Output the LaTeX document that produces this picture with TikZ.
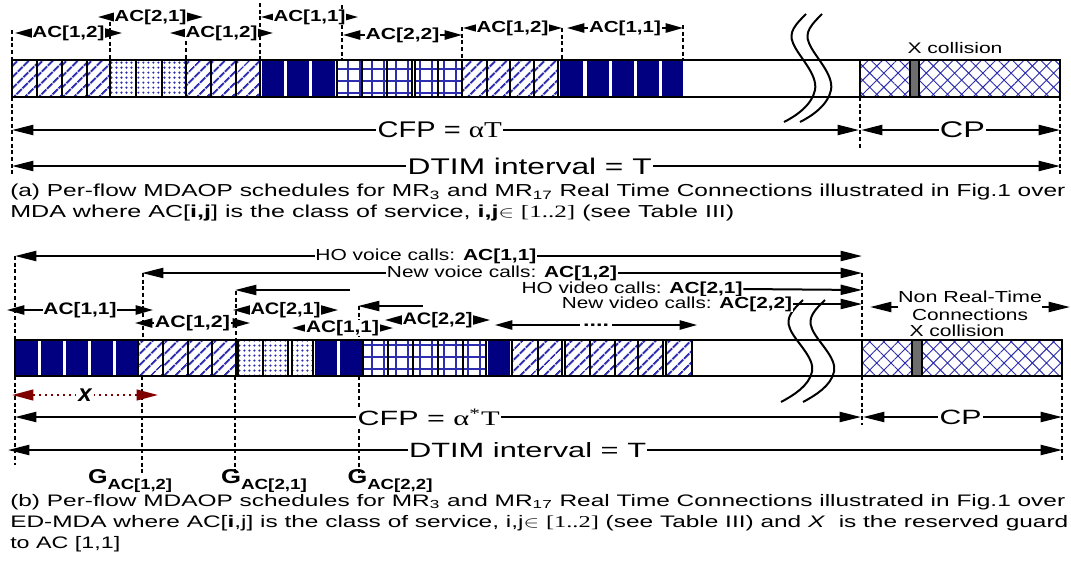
\documentclass[tikz,border=0pt]{standalone}
\usepackage{fontspec}
\setmainfont{Liberation Sans}
\newfontfamily\srf{Liberation Serif}
\usetikzlibrary{patterns.meta,arrows.meta}
\definecolor{navyb}{RGB}{0,0,128}
\definecolor{patb}{RGB}{45,45,175}
\definecolor{collgray}{RGB}{110,110,110}
\definecolor{dred}{RGB}{128,0,0}
\newcommand\W[2]{\resizebox{\dimexpr#1pt*3/4\relax}{\height}{#2}}
\newcommand\fs[1]{\fontsize{#1}{#1}\selectfont}
\tikzset{
  cellbox/.style={draw=black,line width=1.5pt},
  hatchcell/.style={cellbox,pattern={Lines[angle=45,distance=6.5pt,line width=1.9pt]},pattern color=patb},
  dotcell/.style={cellbox,pattern={Dots[distance=4pt,radius=1pt]},pattern color=patb},
  gridcell/.style={cellbox,pattern={Hatch[angle=0,distance=9pt,line width=1.1pt]},pattern color=patb},
  navycell/.style={fill=navyb},
  crosscell/.style={cellbox,pattern={Hatch[angle=45,distance=7.5pt,line width=0.7pt]},pattern color=patb},
  graycell/.style={draw=black,line width=1pt,fill=collgray},
  baroutline/.style={draw=black,line width=1.5pt},
  guide/.style={line width=1.3pt,dash pattern=on 3pt off 2pt},
  wave/.style={line width=1.5pt},
  dimarrow/.style={line width=1.1pt,{Triangle[length=13pt,width=7pt]}-{Triangle[length=13pt,width=7pt]}},
  bigarrow/.style={line width=1.5pt,{Triangle[length=16pt,width=7.5pt]}-{Triangle[length=16pt,width=7.5pt]}},
  onearrow/.style={line width=1.5pt,-{Triangle[length=16pt,width=7.5pt]}},
  redarrow/.style={dred,line width=1.6pt,dash pattern=on 1.5pt off 3pt,{Triangle[length=16pt,width=8pt]}-{Triangle[length=16pt,width=8pt]}},
  dimlabel/.style={fill=white,inner sep=0.5pt,font=\bfseries\fs{12}},
  calllabel/.style={fill=white,inner sep=0.5pt,font=\fs{12}},
  biglabel/.style={fill=white,inner sep=1pt},
  plainlabel/.style={inner sep=0pt},
  caption/.style={inner sep=0pt,anchor=west},
}
\begin{document}
\begin{tikzpicture}[x=0.75pt,y=-0.75pt]
\useasboundingbox[fill=white] (0,0) rectangle (1071,561);

%================ (a) bar =================
\foreach \p/\q in {12/37,37/62,62/87,87/110,186/211,211/236,236/260,462/487,487/510,510/534,534/558}
  \draw[hatchcell] (\p,60) rectangle (\q,97);
\foreach \p/\q in {110/136,136/162,162/186}
  \draw[dotcell] (\p,60) rectangle (\q,97);
\foreach \p/\q in {337/362,362/387,387/412,415/438,438/462}
  \draw[gridcell] (\p,60) rectangle (\q,97);
\foreach \p/\q in {262/284,287/309,312/335,560/583,587/609,612/634,637/659,662/683}
  \fill[navycell] (\p,60) rectangle (\q,97);
\draw[crosscell] (860,60) rectangle (910,97);
\draw[crosscell] (919,60) rectangle (1060,97);
\draw[graycell] (910,60) rectangle (919,97);
\draw[baroutline] (12,60) rectangle (1060,97);

% guides (a)
\draw[guide] (12,30) -- (12,60);
\draw[guide] (12,97) -- (12,175);
\draw[guide] (110,15) -- (110,60);
\draw[guide] (186,28) -- (186,60);
\draw[guide] (260,3) -- (260,60);
\draw[guide] (342,5) -- (342,60);
\draw[guide] (462,27) -- (462,60);
\draw[guide] (562,28) -- (562,60);
\draw[guide] (683,25) -- (683,60);
\draw[guide] (860,97) -- (860,150);
\draw[guide] (1060,97) -- (1060,175);

% waves (a)
\draw[wave] (806,14) .. controls (796,24) and (788,32) .. (793,43) .. controls (798,56) and (818,74) .. (815,90) .. controls (812,105) and (796,116) .. (784,122);
\draw[wave] (822,14) .. controls (812,24) and (804,32) .. (809,43) .. controls (814,56) and (834,74) .. (831,90) .. controls (828,105) and (812,116) .. (800,122);

% dimension labels (a)
\coordinate (a1l) at (15,33);  \coordinate (a1r) at (122,33);
\coordinate (a2l) at (98,17);  \coordinate (a2r) at (203,17);
\coordinate (a3l) at (170,33); \coordinate (a3r) at (273,33);
\coordinate (a4l) at (261,17); \coordinate (a4r) at (358,17);
\coordinate (a5l) at (343,35); \coordinate (a5r) at (462,35);
\coordinate (a6l) at (463,28); \coordinate (a6r) at (562,28);
\coordinate (a7l) at (567,28); \coordinate (a7r) at (683,28);
\draw[dimarrow] (a1l) -- node[dimlabel] (a1) {\W{72}{AC[1,2]}} (a1r);
\draw[dimarrow] (a2l) -- node[dimlabel] (a2) {\W{72}{AC[2,1]}} (a2r);
\draw[dimarrow] (a3l) -- node[dimlabel] (a3) {\W{72}{AC[1,2]}} (a3r);
\draw[dimarrow] (a4l) -- node[dimlabel] (a4) {\W{72}{AC[1,1]}} (a4r);
\draw[dimarrow] (a5l) -- node[dimlabel] (a5) {\W{74}{AC[2,2]}} (a5r);
\draw[dimarrow] (a6l) -- node[dimlabel] (a6) {\W{72}{AC[1,2]}} (a6r);
\draw[dimarrow] (a7l) -- node[dimlabel] (a7) {\W{72}{AC[1,1]}} (a7r);

\node[plainlabel,font=\fs{11.5}] (xcolA) at (955,48) {\W{95}{X collision}};

% period arrows (a)
\coordinate (cfpAl) at (12,130); \coordinate (cfpAr) at (859,130);
\coordinate (cpAl) at (861,130); \coordinate (cpAr) at (1060,130);
\coordinate (dtAl) at (12,166); \coordinate (dtAr) at (1060,166);
\draw[bigarrow] (cfpAl) -- node[biglabel,pos=0.505,font=\fs{17}] (cfpA) {\W{124}{CFP = {\srf αT}}} (cfpAr);
\draw[bigarrow] (cpAl) -- node[biglabel,pos=0.51,font=\fs{17}] (cpA) {\W{45}{CP}} (cpAr);
\draw[bigarrow] (dtAl) -- node[biglabel,pos=0.494,font=\fs{17}] (dtA) {\W{244}{DTIM interval = T}} (dtAr);

% caption (a)
\node[caption,font=\fs{13}] (capA1) at (10,192) {\W{1055}{(a) Per-flow MDAOP schedules for MR\textsubscript{3} and MR\textsubscript{17} Real Time Connections illustrated in Fig.1 over}};
\node[caption,font=\fs{13}] (capA2) at (10,213) {\W{724}{MDA where AC[\textbf{i,j}] is the class of service, \textbf{i,j}$\in$ {\srf [1..2]} (see Table III)}};

%================ (b) bar =================
\foreach \p/\q in {15/38,40.5/63,65.5/88,90.5/113,115.5/137,315/337,340/362,488/510}
  \fill[navycell] (\p,340) rectangle (\q,376);
\foreach \p/\q in {138/163,163/188,188/212,212/236,512/538,538/562,565/590,590/615,615/638,638/663,666/692}
  \draw[hatchcell] (\p,340) rectangle (\q,376);
\foreach \p/\q in {238/263,263/288,292/313}
  \draw[dotcell] (\p,340) rectangle (\q,376);
\foreach \p/\q in {363/388,388/413,413/438,438/463,463/486}
  \draw[gridcell] (\p,340) rectangle (\q,376);
\draw[crosscell] (862,340) rectangle (912,376);
\draw[crosscell] (922,340) rectangle (1062,376);
\draw[graycell] (912,340) rectangle (922,376);
\draw[baroutline] (15,340) rectangle (1062,376);

% guides (b)
\draw[guide] (15,256) -- (15,340);
\draw[guide] (15,376) -- (15,465);
\draw[guide] (143,273) -- (143,340);
\draw[guide] (142,376) -- (142,475);
\draw[guide] (236,291) -- (236,340);
\draw[guide] (235,376) -- (235,475);
\draw[guide] (359,306) -- (359,340);
\draw[guide] (359,376) -- (359,475);
\draw[guide] (862,273) -- (862,340);
\draw[guide] (862,376) -- (862,425);
\draw[guide] (1062,376) -- (1062,460);

% waves (b)
\draw[wave] (803,300) .. controls (793,309.6) and (785,317.5) .. (790,328.7) .. controls (795,341.5) and (815,357.4) .. (812,371.7) .. controls (809,386) and (793,395.6) .. (781,402);
\draw[wave] (825,300) .. controls (815,309.6) and (807,317.5) .. (812,328.7) .. controls (817,341.5) and (837,357.4) .. (834,371.7) .. controls (831,386) and (815,395.6) .. (803,402);

% call arrows (b)
\coordinate (hovl) at (15,256);  \coordinate (hovr) at (862,256);
\coordinate (nvl) at (142,273);  \coordinate (nvr) at (862,273);
\draw[bigarrow] (hovl) -- node[calllabel,pos=0.4852] (hov) {\W{221}{HO voice calls: \textbf{AC[1,1]}}} (hovr);
\draw[bigarrow] (nvl) -- node[calllabel] (nv) {\W{230}{New voice calls: \textbf{AC[1,2]}}} (nvr);

\node[calllabel] (hovid) at (632,289) {\W{221}{HO video calls: \textbf{AC[2,1]}}};
\coordinate (hovidS) at (350,290); \coordinate (hovidT) at (235,290);
\coordinate (hovidR) at (862,290);
\draw[onearrow] (hovidS) -- (hovidT);
\draw[onearrow] (hovid.east) -- (hovidR);

\node[calllabel] (nvid) at (677,304) {\W{230}{New video calls: \textbf{AC[2,2]}}};
\coordinate (nvidS) at (423,306); \coordinate (nvidT) at (358,306);
\coordinate (nvidR) at (862,304);
\draw[onearrow] (nvidS) -- (nvidT);
\draw[onearrow] (nvid.east) -- (nvidR);

% dimension labels (b)
\coordinate (b1l) at (7,310);   \coordinate (b1r) at (153,310);
\coordinate (b2l) at (135,323); \coordinate (b2r) at (250,323);
\coordinate (b3l) at (233,310); \coordinate (b3r) at (338,310);
\coordinate (b4l) at (292,328); \coordinate (b4r) at (393,328);
\coordinate (b5l) at (385,320); \coordinate (b5r) at (490,320);
\coordinate (b6l) at (495,325); \coordinate (b6r) at (697,325);
\draw[dimarrow] (b1l) -- node[dimlabel,font=\bfseries\fs{12.5}] (b1) {\W{73}{AC[1,1]}} (b1r);
\draw[dimarrow] (b2l) -- node[dimlabel,font=\bfseries\fs{12.5}] (b2) {\W{75}{AC[1,2]}} (b2r);
\draw[dimarrow] (b3l) -- node[dimlabel,font=\bfseries\fs{12.5}] (b3) {\W{70}{AC[2,1]}} (b3r);
\draw[dimarrow] (b4l) -- node[dimlabel,font=\bfseries\fs{12.5}] (b4) {\W{73}{AC[1,1]}} (b4r);
\draw[dimarrow] (b5l) -- node[dimlabel,font=\bfseries\fs{12.5}] (b5) {\W{70}{AC[2,2]}} (b5r);
\draw[dimarrow] (b6l) -- node[dimlabel,font=\bfseries\fs{12.5},inner xsep=2pt] (b6) {\W{26}{....}} (b6r);

% non real-time
\node[plainlabel,font=\fs{12}] (nrt) at (970,297) {\W{144}{Non Real-Time}};
\node[plainlabel,font=\fs{12}] (conn) at (970,315) {\W{116}{Connections}};
\node[plainlabel,font=\fs{12}] (xcolB) at (957,331) {\W{95}{X collision}};
\coordinate (nrtLs) at (898,307); \coordinate (nrtLt) at (870,307);
\coordinate (nrtRs) at (1042,307); \coordinate (nrtRt) at (1070,307);
\draw[onearrow] (nrtLs) -- (nrtLt);
\draw[onearrow] (nrtRs) -- (nrtRt);

% guard x
\coordinate (xl) at (12,395); \coordinate (xr) at (158,395);
\draw[redarrow] (xl) -- node[fill=white,inner sep=1.5pt,text=black,font=\bfseries\itshape\fs{18}] (xg) {x} (xr);

% period arrows (b)
\coordinate (cfpBl) at (15,417); \coordinate (cfpBr) at (861,417);
\coordinate (cpBl) at (863,417); \coordinate (cpBr) at (1062,417);
\coordinate (dtBl) at (8,450); \coordinate (dtBr) at (1062,450);
\draw[bigarrow] (cfpBl) -- node[biglabel,pos=0.489,font=\fs{15.5}] (cfpB) {\W{142}{CFP = {\srf α\textsuperscript{*}T}}} (cfpBr);
\draw[bigarrow] (cpBl) -- node[biglabel,pos=0.49,font=\fs{15.5}] (cpB) {\W{42}{CP}} (cpBr);
\draw[bigarrow] (dtBl) -- node[biglabel,pos=0.493,font=\fs{15.5}] (dtB) {\W{237}{DTIM interval = T}} (dtBr);

% guard labels
\node[plainlabel,font=\bfseries\fs{15}] (gA) at (130,481) {\W{84}{G\raisebox{-4pt}{\fs{11}AC[1,2]}}};
\node[plainlabel,font=\bfseries\fs{15}] (gB) at (264,481) {\W{86}{G\raisebox{-4pt}{\fs{11}AC[2,1]}}};
\node[plainlabel,font=\bfseries\fs{15}] (gC) at (390,481) {\W{85}{G\raisebox{-4pt}{\fs{11}AC[2,2]}}};

% caption (b)
\node[caption,font=\fs{12.5}] (capB1) at (10,502) {\W{1055}{(b) Per-flow MDAOP schedules for MR\textsubscript{3} and MR\textsubscript{17} Real Time Connections illustrated in Fig.1 over}};
\node[caption,font=\fs{12.5}] (capB2) at (10,523) {\W{1058}{ED-MDA where AC[\textbf{i},j] is the class of service, i,j$\in$ {\srf [1..2]} (see Table III) and \textit{X}~ is the reserved guard}};
\node[caption,font=\fs{12.5}] (capB3) at (10,544) {\W{110}{to AC [1,1]}};
\end{tikzpicture}
\end{document}
